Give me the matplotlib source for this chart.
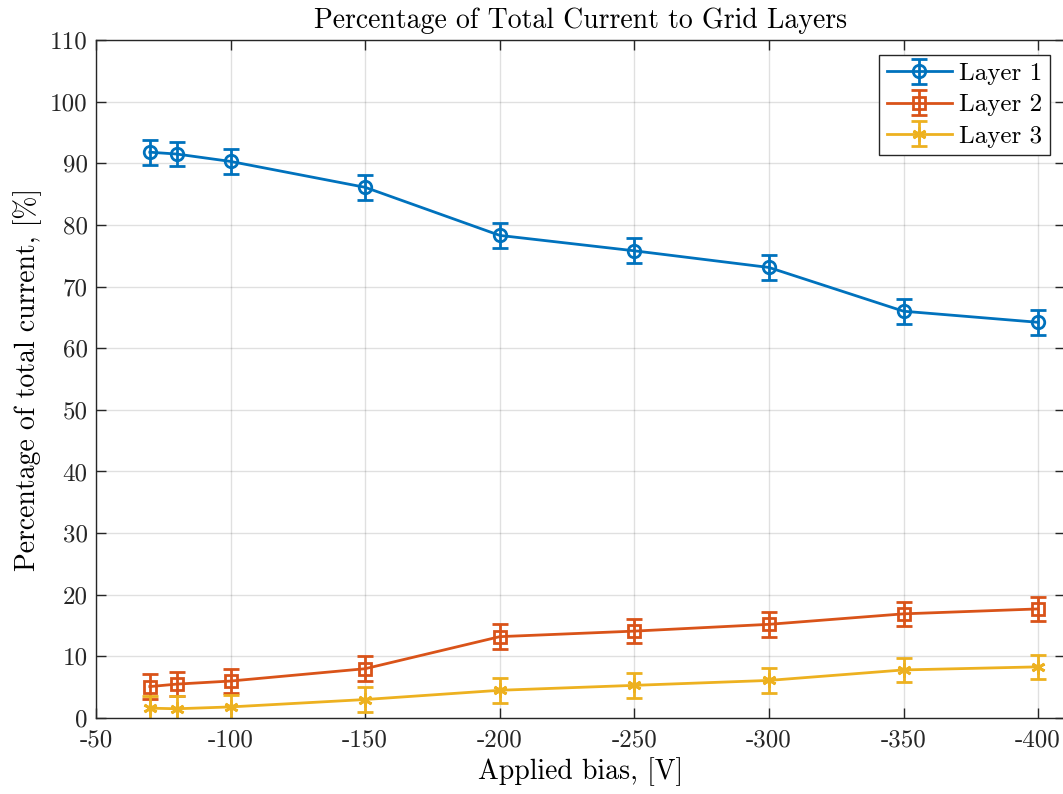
import matplotlib

matplotlib.use("Agg")

import matplotlib.pyplot as plt

plt.rcParams["font.family"] = ["cmr10", "DejaVu Serif"]
plt.rcParams["mathtext.fontset"] = "cm"
plt.rcParams["axes.unicode_minus"] = False
plt.rcParams["axes.formatter.use_mathtext"] = True

# Applied bias (V) and share of total current (%) per grid layer
bias = [-70, -80, -100, -150, -200, -250, -300, -350, -400]
layer1 = [91.8, 91.5, 90.3, 86.1, 78.3, 75.8, 73.1, 66.0, 64.2]
layer2 = [5.1, 5.5, 6.0, 8.0, 13.2, 14.1, 15.2, 16.9, 17.7]
layer3 = [1.6, 1.5, 1.8, 3.0, 4.5, 5.3, 6.1, 7.8, 8.3]
err1 = [2.0] * len(bias)
err2 = [2.0] * len(bias)
err3 = [2.0] * len(bias)

# MATLAB-style asterisk for layer 3
asterisk = (6, 2, 0)
series = [
    ("Layer 1", layer1, err1, "o", 9, "#0072BD"),
    ("Layer 2", layer2, err2, "s", 8, "#D95319"),
    ("Layer 3", layer3, err3, asterisk, 10, "#EDB120"),
]

xticks = [-50, -100, -150, -200, -250, -300, -350, -400]
yticks = list(range(0, 111, 10))

fig = plt.figure(figsize=(10.63, 7.94), dpi=100)
# the right edge of the box sits just past the figure edge, as in the source
ax = fig.add_axes([0.0903, 0.0957, 0.9116, 0.8539])

for label, vals, err, marker, msize, color in series:
    ax.errorbar(bias, vals, yerr=err, marker=marker, color=color,
                markerfacecolor="none", markeredgewidth=2.0, markersize=msize,
                linewidth=2.0, elinewidth=2.0, capsize=6, capthick=2.0,
                label=label)

ax.set_xlim(-50, -410)
ax.set_ylim(0, 110)
ax.set_xticks(xticks)
ax.set_xticklabels([str(v) for v in xticks])
ax.set_yticks(yticks)
ax.set_yticklabels([str(v) for v in yticks])
ax.tick_params(direction="in", top=True, right=True, labelsize=18,
               length=7, width=1.0, colors="#262626")
ax.tick_params(axis="x", pad=8)
ax.tick_params(axis="y", pad=6)
for spine in ax.spines.values():
    spine.set_color("#262626")
    spine.set_linewidth(1.0)
ax.grid(True, color="#000000", alpha=0.12, linewidth=1.0)
ax.set_axisbelow(True)

ax.set_xlabel("Applied bias, [V]", fontsize=20, labelpad=4)
ax.set_ylabel("Percentage of total current, [%]", fontsize=20, labelpad=6)
ax.set_title("Percentage of Total Current to Grid Layers", fontsize=20, pad=9)

leg = ax.legend(loc="upper right", fontsize=18, fancybox=False,
                framealpha=1.0, edgecolor="#262626", borderaxespad=0.6,
                handlelength=2.6, handletextpad=0.3, borderpad=0.3,
                labelspacing=0.35)
leg.get_frame().set_linewidth(1.0)

fig.savefig("out.png", dpi=100)
